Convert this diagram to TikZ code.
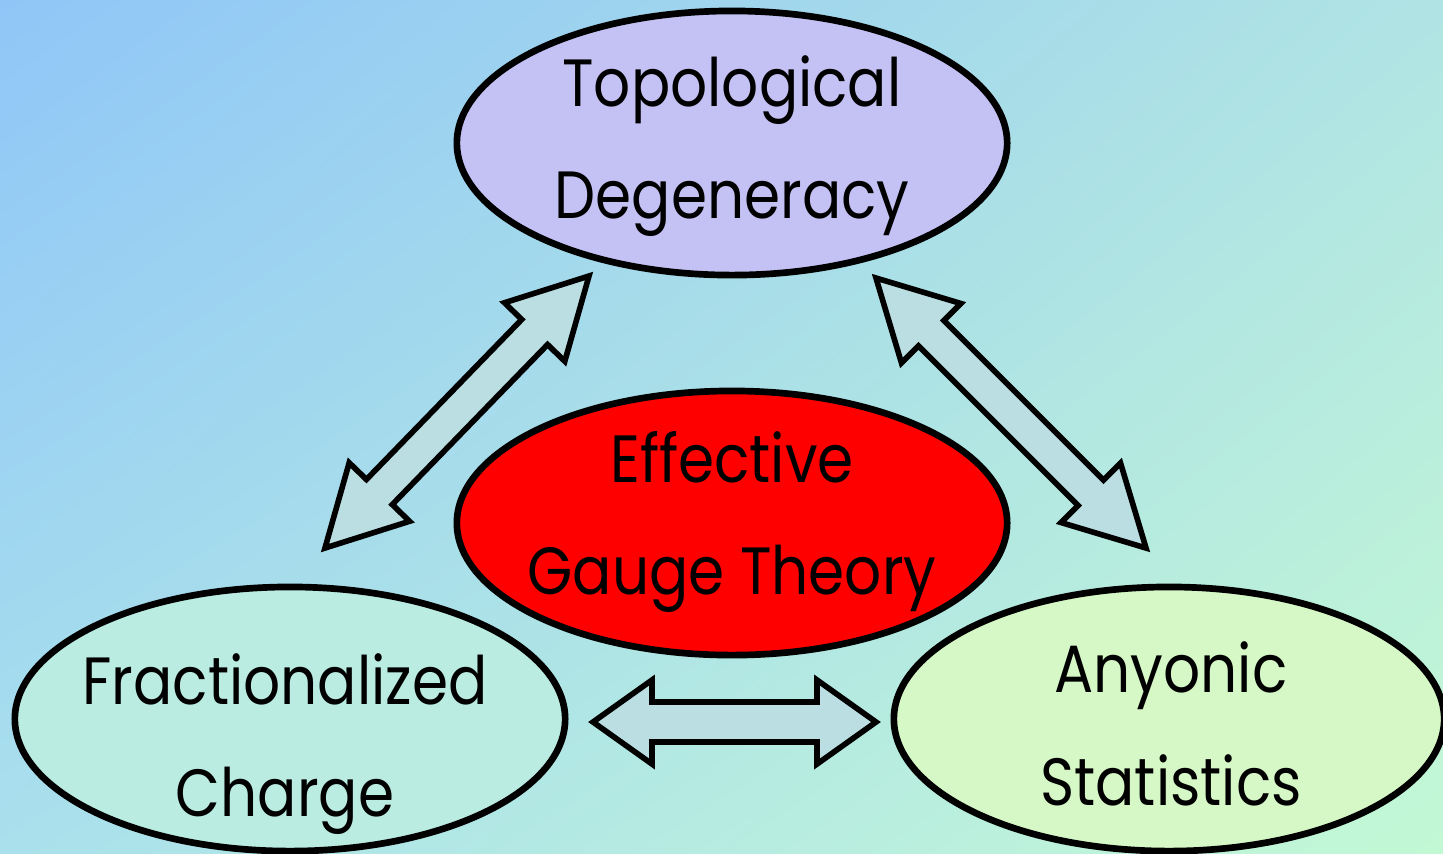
\documentclass[tikz,border=0pt]{standalone}
\usepackage{fontspec}
\setmainfont[FakeStretch=0.87]{Poppins}
\usetikzlibrary{shapes.geometric,calc,shadings}

\definecolor{skyA}{RGB}{143,198,247}
\definecolor{skyB}{RGB}{176,228,228}
\definecolor{skyC}{RGB}{170,224,236}
\definecolor{skyD}{RGB}{195,248,213}
\definecolor{lavender}{RGB}{196,194,244}
\definecolor{mint}{RGB}{186,236,226}
\definecolor{lime}{RGB}{214,247,198}
\definecolor{arrowfill}{RGB}{186,222,226}

% block arrow with a head on both ends: from, to, head length, head half width, shaft half width
\newcommand{\dblarrow}[5]{%
	\coordinate (a1) at ($(#1)!#3!(#2)$);
	\coordinate (b1) at ($(#2)!#3!(#1)$);
	\draw[blockarrow] (#1) -- ($(a1)!#4!90:(#2)$) -- ($(a1)!#5!90:(#2)$)
		-- ($(b1)!#5!-90:(#1)$) -- ($(b1)!#4!-90:(#1)$) -- (#2)
		-- ($(b1)!#4!90:(#1)$) -- ($(b1)!#5!90:(#1)$)
		-- ($(a1)!#5!-90:(#2)$) -- ($(a1)!#4!-90:(#2)$) -- cycle;}

\begin{document}
\begin{tikzpicture}[x=0.01cm,y=-0.01cm]
	\tikzset{bubble/.style={ellipse,draw,line width=1.9pt,minimum width=5.5cm,minimum height=2.64cm},
		caption/.style={align=center,font=\fontsize{19}{32}\selectfont},
		blockarrow/.style={draw,fill=arrowfill,line width=1.6pt}}
	\useasboundingbox (0,0) rectangle (1443,853);
	\shade[upper left=skyA,upper right=skyB,lower left=skyC,lower right=skyD] (0,0) rectangle (1443,853);

	\node[bubble,fill=lavender] (topo) at (732,143) {};
	\node[bubble,fill=red] (gauge) at (732,523) {};
	\node[bubble,fill=mint] (frac) at (290,719) {};
	\node[bubble,fill=lime] (any) at (1169,719) {};

	\node[caption] (topotext) at (732,146) {Topological\\Degeneracy};
	\node[caption] (gaugetext) at (732,522) {Effective\\Gauge Theory};
	\node[caption] (fractext) at (285,744) {Fractionalized\\Charge};
	\node[caption] (anytext) at (1171,724) {Anyonic\\Statistics};

	\coordinate (L1) at (589,276);
	\coordinate (L2) at (325,548);
	\coordinate (R1) at (876,278);
	\coordinate (R2) at (1146,548);
	\coordinate (H1) at (593,722);
	\coordinate (H2) at (876,722);

	\dblarrow{L1}{L2}{0.78cm}{0.42cm}{0.18cm}
	\dblarrow{R1}{R2}{0.78cm}{0.42cm}{0.18cm}
	\dblarrow{H1}{H2}{0.59cm}{0.42cm}{0.2cm}
\end{tikzpicture}
\end{document}
